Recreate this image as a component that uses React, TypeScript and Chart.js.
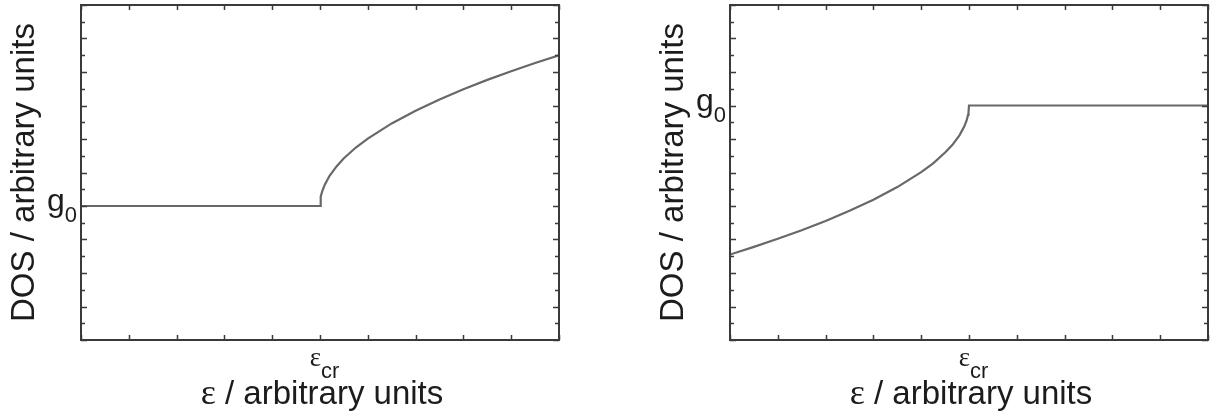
import { useEffect, useRef } from 'react';
import { Chart, registerables } from 'chart.js';

Chart.register(...registerables);

// Axis extents and tick positions (arbitrary units)
const X_TICKS = [0, 1, 2, 3, 4, 5, 6, 7, 8, 9, 10];
const Y_TICKS = [0, 1, 2, 3, 4, 5, 6, 7, 8, 9, 10, 11, 12, 13, 14, 15, 16, 17, 18, 19, 20];
const E_CR = 5;

// Left panel: flat DOS below the critical energy, square-root growth above it
const leftX = [0, 5, 5.01, 5.02, 5.05, 5.1, 5.2, 5.35, 5.5, 5.75, 6, 6.5, 7, 7.5, 8, 8.5, 9, 9.5, 10];
const leftY = [8, 8, 8.4, 8.57, 8.9, 9.27, 9.8, 10.38, 10.85, 11.49, 12.02, 12.93, 13.69, 14.36, 14.97, 15.53, 16.05, 16.54, 17];
const LEFT_G0 = 8;

// Right panel: square-root rise up to the critical energy, flat afterwards
const rightX = [0, 0.5, 1, 1.5, 2, 2.5, 3, 3.5, 4, 4.25, 4.5, 4.65, 4.8, 4.9, 4.95, 4.98, 4.99, 5, 10];
const rightY = [5.1, 5.56, 6.04, 6.55, 7.11, 7.71, 8.37, 9.13, 10.02, 10.55, 11.19, 11.64, 12.22, 12.74, 13.11, 13.44, 13.6, 14, 14];
const RIGHT_G0 = 14;

const FONT = '"Liberation Sans", Arial, Helvetica, sans-serif';
const SERIF = '"Liberation Serif", "Times New Roman", serif';
const INK = '#1c1c1c';
const FRAME = '#3a3a3a';
const CURVE = '#686868';

const CANVAS_W = 574;
const CANVAS_H = 416;

// Boxed frame with inward ticks on all four sides, plus axis labels
const decorPlugin = {
  id: 'decor',
  afterDatasetsDraw(chart: any, _args: any, opts: any) {
    const { ctx, chartArea: a } = chart;
    const x = chart.scales.x;
    const y = chart.scales.y;
    ctx.save();

    ctx.strokeStyle = FRAME;
    ctx.lineWidth = 1.5;
    ctx.beginPath();
    for (const v of X_TICKS) {
      const px = Math.round(x.getPixelForValue(v)) + 0.5;
      ctx.moveTo(px, a.bottom);
      ctx.lineTo(px, a.bottom - 5);
      ctx.moveTo(px, a.top);
      ctx.lineTo(px, a.top + 5);
    }
    for (const v of Y_TICKS) {
      const py = Math.round(y.getPixelForValue(v)) + 0.5;
      const len = v % 2 === 0 ? 6 : 4;
      ctx.moveTo(a.left, py);
      ctx.lineTo(a.left + len, py);
      ctx.moveTo(a.right, py);
      ctx.lineTo(a.right - len, py);
    }
    ctx.stroke();

    ctx.lineWidth = 2;
    ctx.strokeRect(a.left, a.top, a.right - a.left, a.bottom - a.top);

    ctx.fillStyle = INK;

    // y-axis title
    ctx.save();
    ctx.translate(a.left - 56, (a.top + a.bottom) / 2);
    ctx.rotate(-Math.PI / 2);
    ctx.font = `33px ${FONT}`;
    ctx.textAlign = 'center';
    ctx.textBaseline = 'middle';
    ctx.fillText('DOS / arbitrary units', 0, 0);
    ctx.restore();

    // x-axis title: serif epsilon followed by sans text
    ctx.textBaseline = 'alphabetic';
    ctx.textAlign = 'left';
    const rest = ' / arbitrary units';
    ctx.font = `36px ${SERIF}`;
    const wEps = ctx.measureText('ε').width;
    ctx.font = `33px ${FONT}`;
    const wRest = ctx.measureText(rest).width;
    const x0 = (a.left + a.right) / 2 + 2 - (wEps + wRest) / 2;
    const by = a.bottom + 64;
    ctx.font = `36px ${SERIF}`;
    ctx.fillText('ε', x0, by);
    ctx.font = `33px ${FONT}`;
    ctx.fillText(rest, x0 + wEps, by);

    // critical energy tick label
    const xc = x.getPixelForValue(opts.eCr);
    ctx.font = `27px ${SERIF}`;
    ctx.textAlign = 'right';
    ctx.fillText('ε', xc + 1, a.bottom + 26);
    ctx.font = `22px ${FONT}`;
    ctx.textAlign = 'left';
    ctx.fillText('cr', xc + 1, a.bottom + 38);

    // g0 tick label
    const yg = y.getPixelForValue(opts.g0);
    ctx.textAlign = 'right';
    ctx.font = `22px ${FONT}`;
    ctx.fillText('0', a.left - 4, yg + 16);
    const w0 = ctx.measureText('0').width;
    ctx.font = `32px ${FONT}`;
    ctx.fillText('g', a.left - 4 - w0, yg + 5);

    ctx.restore();
  },
};

function Panel({ xs, ys, g0 }: { xs: number[]; ys: number[]; g0: number }) {
  const ref = useRef<HTMLCanvasElement | null>(null);

  useEffect(() => {
    if (!ref.current) return;
    const chart = new Chart(ref.current, {
      type: 'line',
      data: {
        datasets: [
          {
            data: xs.map((v, i) => ({ x: v, y: ys[i] })),
            borderColor: CURVE,
            borderWidth: 2.2,
            pointRadius: 0,
            tension: 0,
            fill: false,
          },
        ],
      },
      options: {
        responsive: false,
        animation: false,
        devicePixelRatio: 1,
        layout: { padding: { left: 81, right: 15, top: 5, bottom: 76 } },
        scales: {
          x: { type: 'linear', min: X_TICKS[0], max: X_TICKS[X_TICKS.length - 1], display: false },
          y: { type: 'linear', min: Y_TICKS[0], max: Y_TICKS[Y_TICKS.length - 1], display: false },
        },
        plugins: {
          legend: { display: false },
          tooltip: { enabled: false },
          decor: { g0, eCr: E_CR },
        } as any,
      },
      plugins: [decorPlugin],
    });
    return () => chart.destroy();
  }, [xs, ys, g0]);

  return <canvas ref={ref} width={CANVAS_W} height={CANVAS_H} style={{ display: 'block' }} />;
}

export default function App() {
  return (
    <div
      style={{
        position: 'absolute',
        left: 0,
        top: 0,
        width: 1223,
        height: 416,
        background: '#ffffff',
        overflow: 'hidden',
      }}
    >
      <div style={{ position: 'absolute', left: 0, top: 0 }}>
        <Panel xs={leftX} ys={leftY} g0={LEFT_G0} />
      </div>
      <div style={{ position: 'absolute', left: 649, top: 0 }}>
        <Panel xs={rightX} ys={rightY} g0={RIGHT_G0} />
      </div>
    </div>
  );
}
